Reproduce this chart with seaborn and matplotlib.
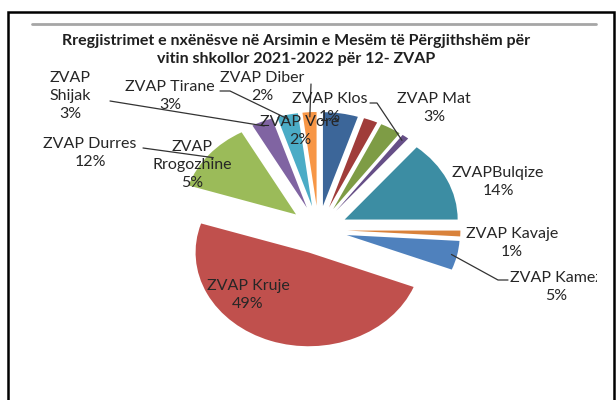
import numpy as np
import matplotlib
matplotlib.use("Agg")
import matplotlib.pyplot as plt
import seaborn as sns
from matplotlib.patches import Rectangle
from matplotlib.transforms import Affine2D, Bbox, TransformedBbox

# data, in the order the slices are drawn (clockwise)
zones = ["ZVAP Kamez", "ZVAP Kruje", "ZVAP Durres", "ZVAP Shijak", "ZVAP Tirane", "ZVAP Diber",
         "ZVAP Rrogozhine", "ZVAP Vore", "ZVAP Mat", "ZVAP Klos", "ZVAPBulqize", "ZVAP Kavaje"]
shares = [5, 49, 12, 3, 3, 2, 5, 2, 3, 1, 14, 1]
slice_colors = ["#4F81BD", "#C0504D", "#9BBB59", "#8064A2", "#4BACC6", "#F79646",
                "#3C6699", "#A03C3A", "#7E9C45", "#664F87", "#3C8DA3", "#D9823B"]

title = "Rregjistrimet e nxënësve në Arsimin e Mesëm të Përgjithshëm për\nvitin shkollor 2021-2022 për 12- ZVAP"

# label layout in pixels (x, y from top), and whether name wraps
label_pos = {
    "ZVAP Kamez": (556, 287, False),
    "ZVAP Kruje": (248, 295, False),
    "ZVAP Durres": (90, 153, False),
    "ZVAP Shijak": (70, 96, True),
    "ZVAP Tirane": (170, 96, False),
    "ZVAP Diber": (262, 87, False),
    "ZVAP Rrogozhine": (192, 165, True),
    "ZVAP Vore": (300, 131, False),
    "ZVAP Mat": (434, 108, False),
    "ZVAP Klos": (330, 108, False),
    "ZVAPBulqize": (498, 182, False),
    "ZVAP Kavaje": (512, 243, False),
}
# leader lines: label-side points in pixels
leaders = {
    "ZVAP Shijak": [(110, 101)],
    "ZVAP Tirane": [(220, 91), (230, 91)],
    "ZVAP Diber": [(311, 84)],
    "ZVAP Klos": [(370, 103), (377, 103)],
    "ZVAP Durres": [(143, 148)],
    "ZVAP Kamez": [(508, 280), (498, 280)],
}

W, H = 616, 400
cx, cy = 318.4, 229.8      # pie centre, pixels
R, boom, squash = 113, 29, 0.83

sns.set_theme(style="white")
plt.rcParams['font.family'] = ['Lato', 'DejaVu Sans']
text_color = "#262626"

fig = plt.figure(figsize=(6.16, 4.0), dpi=100)
ax = fig.add_axes([0, 0, 1, 1])

start = 90 - 360 * sum(shares[6:]) / sum(shares)
wedges, _ = ax.pie(shares, colors=sns.color_palette(slice_colors), startangle=start,
                   counterclock=False, radius=R, center=(cx, H - cy),
                   explode=[boom] * len(shares), wedgeprops=dict(linewidth=0))
flat = Affine2D().translate(-cx, -(H - cy)).scale(1, squash).translate(cx, H - cy)
for w in wedges:
    w.set_transform(flat + ax.transData)

ax.set_aspect('auto')
ax.set_xlim(0, W)
ax.set_ylim(0, H)
ax.axis('off')


def arc_point(w, fr=1.0):
    t = np.deg2rad((w.theta1 + w.theta2) / 2)
    x = w.center[0] + w.r * fr * np.cos(t)
    y = w.center[1] + w.r * fr * np.sin(t)
    return x, (H - cy) + (y - (H - cy)) * squash


clip = TransformedBbox(Bbox([[0, 0], [597, H]]), ax.transData)
for name, share, w in zip(zones, shares, wedges):
    x, y, wrap = label_pos[name]
    txt = name.replace(" ", "\n") if wrap else name
    t = ax.text(x, H - y, f"{txt}\n{share}%", ha='center', va='center', fontsize=11.5,
                color=text_color, linespacing=1.35)
    if name == "ZVAP Kamez":
        t.set_clip_on(True)
        t.set_clip_box(clip)
    if name in leaders:
        pts = [(px, H - py) for px, py in leaders[name]]
        pts.append(arc_point(w, 0.95))
        xs, ys = zip(*pts)
        ax.plot(xs, ys, color="#333333", lw=0.9)

ax.text(296, H - 50, title, ha='center', va='center', fontsize=11.5, fontweight='bold',
        color="#1F1F1F", linespacing=1.35)

# frame and the grey rule above the title
ax.add_patch(Rectangle((8, -10), 606, H - 12 + 10, fill=False, edgecolor="black", lw=1.8))
ax.plot([32, 596], [H - 24, H - 24], color="#A6A6A6", lw=2)

fig.savefig("out.png", dpi=100)
